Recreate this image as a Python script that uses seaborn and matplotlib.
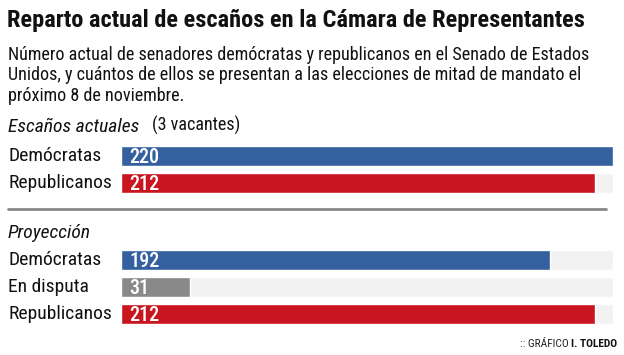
import matplotlib
matplotlib.use("Agg")
import matplotlib.pyplot as plt
import matplotlib.transforms as mtransforms
from matplotlib import font_manager
import seaborn as sns
import pandas as pd

# ---- data ----
title = "Reparto actual de escaños en la Cámara de Representantes"
subtitle_lines = ["Número actual de senadores demócratas y republicanos en el Senado de Estados",
                  "Unidos, y cuántos de ellos se presentan a las elecciones de mitad de mandato el",
                  "próximo 8 de noviembre."]
section1 = "Escaños actuales"
section1_note = "(3 vacantes)"
section2 = "Proyección"
current_parties = ["Demócratas", "Republicanos"]
current_seats = [220, 212]
proj_parties = ["Demócratas", "En disputa", "Republicanos"]
proj_seats = [192, 31, 212]
scale_max = 220
colors = {"Demócratas": "#34609F", "Republicanos": "#C8151F", "En disputa": "#898989"}
track_color = "#F2F2F2"

sns.set_theme(style="white")
avail = {f.name for f in font_manager.fontManager.ttflist}
cands = ["Roboto Condensed", "Liberation Sans Narrow", "DejaVu Sans"]
fam = [c for c in cands if c in avail][0]
plt.rcParams["font.family"] = [fam, "DejaVu Sans"]
stretch = "condensed" if fam == "DejaVu Sans" else "normal"

W, H = 624, 355
fig = plt.figure(figsize=(W / 100, H / 100), dpi=100)
fig.patch.set_facecolor("white")

def fx(px):
    return px / W

def fy(py):
    return 1 - py / H

fig.text(fx(7), fy(21), title, fontsize=17.6, fontweight="bold", va="center", ha="left",
         color="#111111", fontstretch=stretch)
for k, line in enumerate(subtitle_lines):
    fig.text(fx(8), fy(55 + 20.5 * k), line, fontsize=13.1, va="center", ha="left",
             color="#111111", fontstretch=stretch)
fig.text(fx(8), fy(127), section1, fontsize=14, style="italic", va="center",
         ha="left", color="#111111", fontstretch=stretch)
fig.text(fx(152), fy(125), section1_note, fontsize=13, va="center", ha="left",
         color="#111111", fontstretch=stretch)
fig.text(fx(8), fy(233), section2, fontsize=14, style="italic", va="center",
         ha="left", color="#111111", fontstretch=stretch)

# separator
fig.add_artist(plt.Line2D([fx(8), fx(606)], [fy(209), fy(209)], color="#888888",
                          lw=2, transform=fig.transFigure))

x0, x1 = 121, 613
step = 27

def draw(parties, seats, first_center):
    n = len(parties)
    top = first_center - step / 2
    bottom = top + n * step
    ax = fig.add_axes([fx(x0), fy(bottom), fx(x1) - fx(x0), (bottom - top) / H])
    df = pd.DataFrame({"party": parties, "seats": seats, "full": [scale_max] * n})
    sns.barplot(data=df, y="party", x="full", color=track_color, width=0.74,
                ax=ax, orient="h", saturation=1)
    sns.barplot(data=df, y="party", x="seats", hue="party", palette=colors,
                width=0.74, ax=ax, orient="h", legend=False, saturation=1)
    ax.set_xlim(0, scale_max)
    ax.set_ylim(n - 0.5, -0.5)
    ax.axis("off")
    trans = mtransforms.blended_transform_factory(fig.transFigure, ax.transData)
    for i, (p, v) in enumerate(zip(parties, seats)):
        ax.text(fx(8), i, p, transform=trans, fontsize=14, va="center", ha="left",
                color="#111111", fontstretch=stretch)
        ax.annotate(str(v), (0, i), xytext=(6, -1), textcoords="offset points",
                    fontsize=14.5, fontweight="medium", color="white", va="center",
                    ha="left", fontstretch=stretch)
    return ax

draw(current_parties, current_seats, 156)
draw(proj_parties, proj_seats, 260)

t_bold = fig.text(fx(617), fy(344), "I. TOLEDO", fontsize=8.2, fontweight="bold", ha="right",
                  va="center", color="#111111", fontstretch=stretch)
fig.canvas.draw()
bb = t_bold.get_window_extent(renderer=fig.canvas.get_renderer())
fig.text(bb.x0 / W - 2 / W, fy(344), ":: GRÁFICO", fontsize=8.2, ha="right", va="center",
         color="#222222", fontstretch=stretch)

fig.savefig("out.png", dpi=100, facecolor="white")
